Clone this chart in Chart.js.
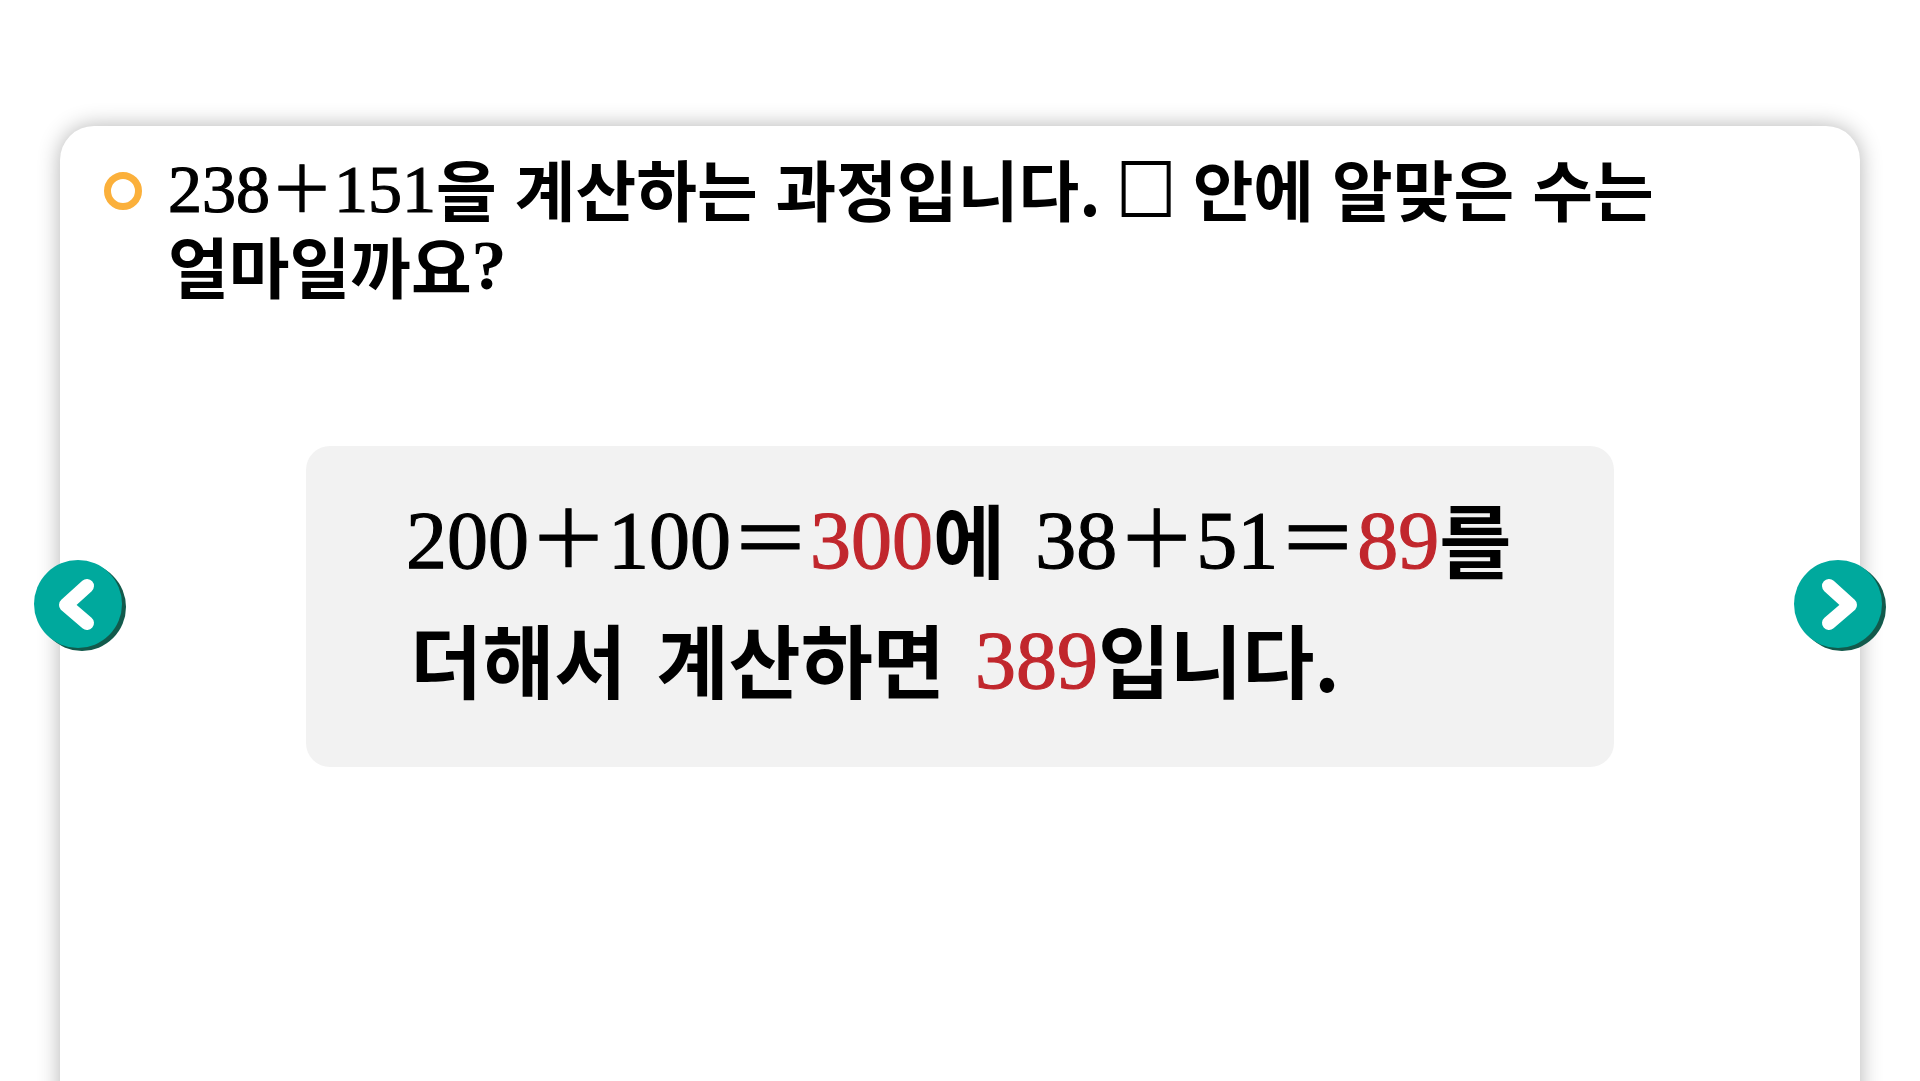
<!DOCTYPE html>
<html>
<head>
<meta charset="utf-8">
<script src="https://cdn.jsdelivr.net/npm/chart.js@4.4.1/dist/chart.umd.min.js"></script>
<style>
  html, body { margin: 0; padding: 0; background: #fff; overflow: hidden; }
  canvas { display: block; }
</style>
</head>
<body>
<canvas id="slide" width="1920" height="1081"></canvas>
<script>
// question: 238 + 151, split into hundreds and the rest
const addends = [238, 151];
const hundredsPart = [200, 100, 300];
const restPart = [38, 51, 89];
const answer = [389];
const questionText = ["을", "계산하는", "과정입니다.", "안에", "알맞은", "수는", "얼마일까요"];
const explainText = ["에", "를", "더해서", "계산하면", "입니다."];

const RED = "#c1272d";
const TEAL = "#00a99d";

// fonts for the question line and for the grey box
const T = { num: "68px 'Liberation Serif'", sign: "400 64px 'Noto Sans CJK KR'", ko: "bold 66px 'Noto Sans CJK KR'", sx: 1.0, sp: 18 };
const B = { num: "82px 'Liberation Serif'", sign: "400 79px 'Noto Sans CJK KR'", ko: "bold 80px 'Noto Sans CJK KR'", sx: 0.98, sp: 30 };

function num(f, v, color) { return { t: String(v), font: f.num, color: color || "#000", bold: 1.2 }; }
function sign(f, s) { return { t: s, font: f.sign, bold: 0.8 }; }
function ko(f, s) { return { t: s, font: f.ko, sx: f.sx, dy: 4 }; }
function sp(f) { return { space: f.sp }; }

function drawRuns(ctx, x, y, runs) {
  runs.forEach(r => {
    if (r.space) { x += r.space; return; }
    if (r.square) {
      ctx.strokeStyle = "#000";
      ctx.lineWidth = 4;
      ctx.strokeRect(x + 3, y - 49, 45, 52);
      x += r.square;
      return;
    }
    const sx = r.sx || 1;
    ctx.font = r.font;
    ctx.fillStyle = r.color || "#000";
    ctx.save();
    ctx.translate(x, y + (r.dy || 0));
    ctx.scale(sx, 1);
    ctx.fillText(r.t, 0, 0);
    if (r.bold) {
      ctx.strokeStyle = r.color || "#000";
      ctx.lineWidth = r.bold;
      ctx.strokeText(r.t, 0, 0);
    }
    ctx.restore();
    x += ctx.measureText(r.t).width * sx;
  });
}

function navButton(ctx, cx, cy, dir) {
  ctx.fillStyle = "#125a4c";
  ctx.beginPath(); ctx.arc(cx + 4, cy + 3, 44, 0, Math.PI * 2); ctx.fill();
  ctx.fillStyle = TEAL;
  ctx.beginPath(); ctx.arc(cx, cy, 44, 0, Math.PI * 2); ctx.fill();
  ctx.strokeStyle = "#fff";
  ctx.lineWidth = 14;
  ctx.lineCap = "round";
  ctx.lineJoin = "round";
  ctx.beginPath();
  ctx.moveTo(cx - 9 * dir, cy - 18);
  ctx.lineTo(cx + 12 * dir, cy + 1);
  ctx.lineTo(cx - 9 * dir, cy + 19);
  ctx.stroke();
}

const slidePlugin = {
  id: "slide",
  afterDraw(chart) {
    const ctx = chart.ctx;
    ctx.save();
    ctx.textBaseline = "alphabetic";

    // card
    ctx.shadowColor = "rgba(0,0,0,0.3)";
    ctx.shadowBlur = 22;
    ctx.fillStyle = "#fff";
    ctx.beginPath(); ctx.roundRect(60, 126, 1800, 1100, 34); ctx.fill();
    ctx.shadowColor = "transparent";

    // bullet ring
    ctx.strokeStyle = "#fbb03b";
    ctx.lineWidth = 7;
    ctx.beginPath(); ctx.arc(123, 191, 15.5, 0, Math.PI * 2); ctx.stroke();

    // question
    drawRuns(ctx, 168, 212, [
      num(T, addends[0]), sign(T, "＋"), num(T, addends[1]), ko(T, questionText[0]), sp(T),
      ko(T, questionText[1]), sp(T), ko(T, questionText[2]), { space: 20 }, { square: 50 }, { space: 22 },
      ko(T, questionText[3]), sp(T), ko(T, questionText[4]), sp(T), ko(T, questionText[5])
    ]);
    drawRuns(ctx, 168, 289, [ko(T, questionText[6]), { t: "?", font: "bold 70px 'Liberation Serif'" }]);

    // grey box
    ctx.fillStyle = "#f2f2f2";
    ctx.beginPath(); ctx.roundRect(306, 446, 1308, 321, 24); ctx.fill();

    drawRuns(ctx, 406, 568, [
      num(B, hundredsPart[0]), sign(B, "＋"), num(B, hundredsPart[1]), sign(B, "＝"), num(B, hundredsPart[2], RED),
      ko(B, explainText[0]), sp(B),
      num(B, restPart[0]), sign(B, "＋"), num(B, restPart[1]), sign(B, "＝"), num(B, restPart[2], RED),
      ko(B, explainText[1])
    ]);
    drawRuns(ctx, 410, 688, [
      ko(B, explainText[2]), sp(B), ko(B, explainText[3]), sp(B), num(B, answer[0], RED), ko(B, explainText[4])
    ]);

    navButton(ctx, 78, 604, -1);
    navButton(ctx, 1838, 604, 1);
    ctx.restore();
  }
};

new Chart(document.getElementById("slide"), {
  type: "scatter",
  data: { datasets: [] },
  options: {
    responsive: false,
    animation: false,
    events: [],
    layout: { padding: 0 },
    plugins: { legend: { display: false }, tooltip: { enabled: false } },
    scales: { x: { display: false }, y: { display: false } }
  },
  plugins: [slidePlugin]
});
</script>
</body>
</html>
